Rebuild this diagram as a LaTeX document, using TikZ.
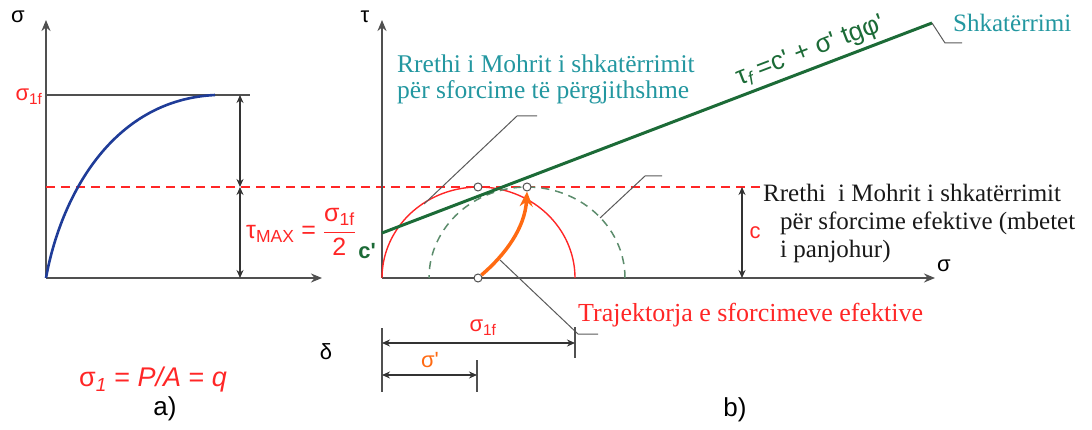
\documentclass[tikz,border=0pt]{standalone}
\usepackage{amsmath}
\usepackage{fontspec}
\setmainfont{Liberation Serif}
\setsansfont{Liberation Sans}
\usetikzlibrary{arrows.meta,positioning}
\definecolor{failred}{HTML}{FF2626}
\definecolor{envgreen}{HTML}{1C6B37}
\definecolor{effgreen}{HTML}{5C8C6C}
\definecolor{curveblue}{HTML}{1F3C98}
\definecolor{pathorange}{HTML}{FF6A12}
\definecolor{noteteal}{HTML}{2397A0}
\definecolor{axisgray}{HTML}{505050}
\newcommand{\prm}{\textquotesingle}

\begin{document}
\begin{tikzpicture}[x=1pt, y=-1pt,
  axis/.style={draw=axisgray, line width=2.2pt, -{Stealth[length=11pt,width=9pt]}},
  dimline/.style={draw=black!80, line width=1.4pt, {Stealth[length=8pt,width=7pt]}-{Stealth[length=8pt,width=7pt]}},
  dimtick/.style={draw=axisgray, line width=1.8pt},
  leader/.style={draw=black!65, line width=1pt},
  lbl/.style={font=\sffamily\fontsize{22}{24}\selectfont, inner sep=0pt},
  note/.style={font=\rmfamily\fontsize{25}{27}\selectfont, inner sep=0pt, align=left},
  dotmark/.style={circle, draw=axisgray, fill=white, line width=1pt, minimum size=8pt, inner sep=0pt},
  failline/.style={failred, dashed, dash pattern=on 9pt off 6pt, line width=1.3pt}]

\useasboundingbox (0,0) rectangle (1092,430);

% ---- a) stress-strain curve
\coordinate (aO) at (46,278);
\coordinate (aY) at (46,20);
\coordinate (aX) at (322,278);
\coordinate (aTop) at (46,95);
\coordinate (aTopR) at (250,95);
\coordinate (aPeak) at (215,95);
\coordinate (aHalf) at (46,187);
\coordinate (bHalfR) at (763,187);
\draw[axis] (aO) -- (aY);
\draw[axis] (aO) -- (aX);
\draw[draw=axisgray, line width=2pt] (aTop) -- (aTopR);
\draw[failline] (aHalf) -- (bHalfR);
\draw[curveblue, line width=2.6pt] (aO) .. controls (60,200) and (110,100) .. (aPeak);

\coordinate (dA1) at (240,95);
\coordinate (dA2) at (240,187);
\coordinate (dA3) at (240,278);
\draw[dimline] (dA1) -- (dA2);
\draw[dimline] (dA2) -- (dA3);

\node[lbl] (sigA) at (18,17) {σ};
\node[lbl, text=failred] (sig1f) at (29,97) {σ\textsubscript{1f}};
\node[lbl, text=failred, font=\sffamily\fontsize{25}{27}\selectfont] (tmax) at (301,232)
  {τ\textsubscript{MAX} = $\dfrac{\text{σ\textsubscript{1f}}}{\text{2}}$};
\node[lbl, font=\sffamily\fontsize{27}{29}\selectfont, text=failred] (qlbl) at (153,380)
  {σ\textsubscript{\textit{1}} = \textit{P/A} = \textit{q}};
\node[lbl, font=\sffamily\fontsize{26}{28}\selectfont] (capA) at (165,409) {a)};
\node[lbl] (delta) at (326,352) {δ};

% ---- b) Mohr circles
\coordinate (bO) at (382,278);
\coordinate (bY) at (382,20);
\coordinate (bX) at (935,278);
\draw[axis] (bO) -- (bY);
\draw[axis] (bO) -- (bX);
\node[lbl] (tauB) at (365,17) {τ};
\node[lbl] (sigB) at (944,266) {σ};

\draw[failred, line width=1.4pt] plot[domain=0:180, samples=80] ({478.5+96.5*cos(\x)},{278-91*sin(\x)});
\draw[effgreen, dashed, dash pattern=on 8pt off 6pt, line width=1.5pt] plot[domain=0:180, samples=80] ({527+98*cos(\x)},{278-91*sin(\x)});

\coordinate (cPrime) at (382,233);
\coordinate (envEnd) at (932,23);
\draw[envgreen, line width=3pt] (cPrime) -- (envEnd);
\path (cPrime) -- node[lbl, sloped, above=5pt, pos=0.79, text=envgreen, font=\sffamily\fontsize{26}{28}\selectfont]
  (envlbl) {τ\textsubscript{\textit{f}}\,=c\prm{} + σ\prm{} tgφ\prm} (envEnd);
\node[lbl, text=envgreen, font=\sffamily\bfseries\fontsize{22}{24}\selectfont] (cPlbl) at (367,251) {c\prm};

\node[dotmark] (mTop) at (478,187) {};
\node[dotmark] (mEff) at (527,187) {};
\node[dotmark] (mStart) at (478,278) {};
\draw[pathorange, line width=3.5pt, -{Stealth[length=15pt,width=13pt]}] (mStart) .. controls (505,255) and (525,228) .. (mEff.south);

\draw[dimline] (bHalfR -| 742,0) -- (742,278);
\node[lbl, text=failred] (clbl) at (755,233) {c};

% ---- notes and leaders
\node[note, text=noteteal, anchor=north west, font=\rmfamily\fontsize{25.5}{26}\selectfont] (noteTot) at (397,55)
  {Rrethi i Mohrit i shkatërrimit\\për sforcime të përgjithshme};
\coordinate (onTot) at (424,204);
\draw[leader] (537,116) -- (517,116) -- (onTot);

\node[note, text=noteteal, anchor=base west] (noteShk) at (953,32) {Shkatërrimi};
\draw[leader] (envEnd) -- (945,43) -- (962,43);

\node[note, text=black!90, anchor=north west, font=\rmfamily\fontsize{25}{28}\selectfont] (noteEff) at (763,184)
  {Rrethi\ \ i Mohrit i shkatërrimit\\\hspace*{17pt}për sforcime efektive (mbetet\\\hspace*{17pt}i panjohur)};
\coordinate (onEff) at (600,218);
\draw[leader] (onEff) -- (645,176) -- (662,176);

\node[note, text=failred, anchor=base west, font=\rmfamily\fontsize{26}{28}\selectfont] (noteTraj) at (578,321)
  {Trajektorja e sforcimeve efektive};
\coordinate (onPath) at (500,260);
\draw[leader] (onPath) -- (578,334) -- (598,334);

% ---- dimensions below
\draw[dimtick] (382,328) -- (382,392);
\draw[dimtick] (575,327) -- (575,358);
\draw[dimtick] (477,360) -- (477,392);
\draw[dimline] (382,343) -- (575,343);
\draw[dimline] (382,375) -- (477,375);
\node[lbl, text=failred] (s1flbl) at (483,328) {σ\textsubscript{1f}};
\node[lbl, text=pathorange] (sprlbl) at (430,360) {σ\prm};
\node[lbl, font=\sffamily\fontsize{26}{28}\selectfont] (capB) at (735,410) {b)};
\end{tikzpicture}
\end{document}
